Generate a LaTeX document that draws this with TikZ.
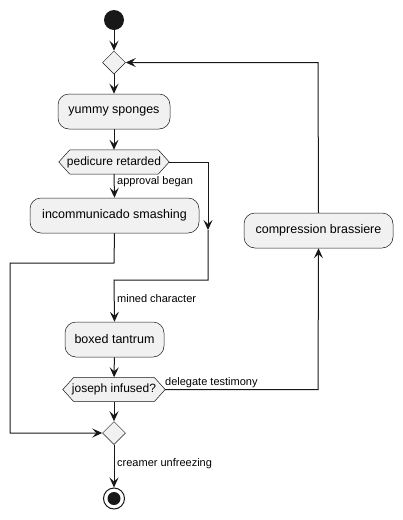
\documentclass[tikz,border=0pt]{standalone}
\usepackage{fontspec}
\setmainfont{Liberation Sans}
\usetikzlibrary{arrows.meta,shapes.geometric,calc}
\definecolor{ln}{HTML}{181818}
\definecolor{bg}{HTML}{F1F1F1}
\tikzset{
  x=1pt,y=-1pt,
  act/.style={draw=ln,line width=0.5pt,fill=bg,rounded corners=11pt,minimum height=35pt,inner xsep=0pt,font=\fontsize{12.5}{14}\selectfont},
  hexn/.style={inner sep=0pt,minimum height=24pt,font=\fontsize{12}{14}\selectfont},
  hexd/.style={draw=ln,line width=0.5pt,fill=bg},
  dia/.style={diamond,draw=ln,line width=0.5pt,fill=bg,inner sep=0pt,minimum width=23pt,minimum height=23pt},
  conn/.style={draw=ln,line width=1pt},
  arr/.style={conn,-{Stealth[length=10pt,width=9pt,inset=4pt]}},
  lbl/.style={font=\fontsize{11}{13}\selectfont,text=black,inner sep=0pt,anchor=west},
}
\newcommand{\hexpath}[1]{%
  \path[hexd] (#1.west) -- ($(#1.north west)+(11,0)$) -- ($(#1.north east)+(-11,0)$) -- (#1.east) -- ($(#1.south east)+(-11,0)$) -- ($(#1.south west)+(11,0)$) -- cycle;}
\begin{document}
\begin{tikzpicture}
\useasboundingbox (0,0) rectangle (403,520);
\fill[white] (0,0) rectangle (403,520);
\node[circle,fill=ln,inner sep=0pt,minimum size=20pt] (start) at (114,20) {};
\node[dia] (d1) at (114,62.5) {};
\node[act,minimum width=112pt] (yum) at (114,111.5) {yummy sponges};
\node[hexn,minimum width=110pt] (h1) at (114,162) {};
\hexpath{h1}
\node[hexn,minimum width=110pt] at (114,162) {pedicure retarded};
\node[act,minimum width=169pt] (inc) at (114.5,215.5) {incommunicado smashing};
\node[act,minimum width=149pt] (comp) at (318.5,230.5) {compression brassiere};
\node[act,minimum width=99pt] (box) at (114.5,339.5) {boxed tantrum};
\node[hexn,minimum width=102pt] (h2) at (114,389.5) {};
\hexpath{h2}
\node[hexn,minimum width=102pt] at (114,389.5) {joseph infused?};
\node[dia] (d2) at (114,433) {};
\node[circle,draw=ln,line width=1pt,fill=white,inner sep=0pt,minimum size=21pt] (end) at (114,498.5) {};
\node[circle,fill=ln,inner sep=0pt,minimum size=13pt] at (end) {};

\coordinate (r1) at (208,162);
\coordinate (r2) at (208,230);
\coordinate (r3) at (208,280);
\coordinate (r4) at (114,280);
\coordinate (l1) at (114,263);
\coordinate (l2) at (10,263);
\coordinate (l3) at (10,433);
\coordinate (c1) at (318,389.5);
\coordinate (c2) at (318,62.5);

\draw[arr] (start) -- (d1);
\draw[arr] (d1) -- (yum);
\draw[arr] (yum) -- (h1);
\draw[arr] (h1.south) -- (inc.north);
\node[lbl] at (117,182) {approval began};
\draw[arr] (h1.east) -- (r1) -- (r2);
\draw[arr] (r2) -- (r3) -- (r4) -- (box.north);
\node[lbl] at (117,299) {mined character};
\draw[arr] (inc.south) -- (l1) -- (l2) -- (l3) -- (d2.west);
\draw[arr] (box) -- (h2);
\draw[arr] (h2) -- (d2);
\draw[arr] (h2.east) -- (c1) -- (comp.south);
\node[lbl] at (165,383) {delegate testimony};
\draw[arr] (comp.north) -- (c2) -- (d1.east);
\draw[arr] (d2) -- (end);
\node[lbl] at (117,464) {creamer unfreezing};
\end{tikzpicture}
\end{document}
